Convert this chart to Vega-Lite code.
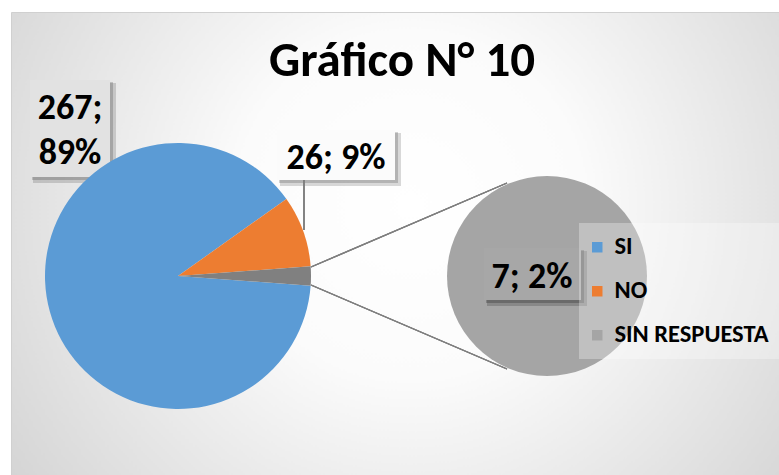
{
  "$schema": "https://vega.github.io/schema/vega-lite/v6.json",
  "width": 768,
  "height": 463,
  "autosize": {"type": "none"},
  "padding": {"left": 11, "top": 12, "right": 0, "bottom": 0},
  "background": "#ffffff",
  "view": {
    "stroke": "#d0d0d0",
    "fill": {"gradient": "radial", "x1": 0.52, "y1": 0.45, "r1": 0, "x2": 0.52, "y2": 0.45, "r2": 0.75,
      "stops": [{"offset": 0, "color": "#ffffff"}, {"offset": 0.3, "color": "#fbfbfb"}, {"offset": 1, "color": "#c9c9c9"}]}
  },
  "title": {
    "text": "Gráfico N° 10",
    "fontSize": 49,
    "font": "Carlito, Liberation Sans Narrow, DejaVu Sans Condensed, Lato",
    "fontWeight": "bold",
    "color": "#000000",
    "anchor": "middle",
    "baseline": "alphabetic",
    "offset": 0,
    "dy": 113,
    "dx": 7
  },
  "data": {"values": [
    {"respuesta": "SI", "n": 267, "pct": "89%"},
    {"respuesta": "NO", "n": 26, "pct": "9%"},
    {"respuesta": "SIN RESPUESTA", "n": 7, "pct": "2%"}
  ]},
  "config": {
    "axis": {"disable": true},
    "font": "Carlito, Liberation Sans Narrow, DejaVu Sans Condensed, Lato",
    "text": {"font": "Carlito, Liberation Sans Narrow, DejaVu Sans Condensed, Lato"}
  },
  "resolve": {"scale": {"theta": "independent"}},
  "layer": [
    {
      "mark": {"type": "rect", "fill": "#000000", "opacity": 0.05},
      "encoding": {
        "x": {"datum": 22, "type": "quantitative", "scale": {"domain": [0, 768], "nice": false, "zero": false}},
        "x2": {"datum": 105},
        "y": {"datum": 71, "type": "quantitative", "scale": {"domain": [463, 0], "nice": false, "zero": false}},
        "y2": {"datum": 171}
      }
    },
    {
      "mark": {"type": "rect", "fill": "#000000", "opacity": 0.06},
      "encoding": {
        "x": {"datum": 21, "type": "quantitative"},
        "x2": {"datum": 102},
        "y": {"datum": 70, "type": "quantitative"},
        "y2": {"datum": 168}
      }
    },
    {
      "mark": {"type": "rect", "fill": "#e2e2e2", "opacity": 1},
      "encoding": {
        "x": {"datum": 19, "type": "quantitative"},
        "x2": {"datum": 99},
        "y": {"datum": 68, "type": "quantitative"},
        "y2": {"datum": 165}
      }
    },
    {
      "mark": {"type": "rect", "fill": "#000000", "opacity": 0.05},
      "encoding": {
        "x": {"datum": 269, "type": "quantitative"},
        "x2": {"datum": 390},
        "y": {"datum": 121, "type": "quantitative"},
        "y2": {"datum": 174}
      }
    },
    {
      "mark": {"type": "rect", "fill": "#000000", "opacity": 0.06},
      "encoding": {
        "x": {"datum": 268, "type": "quantitative"},
        "x2": {"datum": 387},
        "y": {"datum": 120, "type": "quantitative"},
        "y2": {"datum": 171}
      }
    },
    {
      "mark": {"type": "rect", "fill": "#fbfbfb"},
      "encoding": {
        "x": {"datum": 266, "type": "quantitative"},
        "x2": {"datum": 384},
        "y": {"datum": 118, "type": "quantitative"},
        "y2": {"datum": 168}
      }
    },
    {
      "mark": {"type": "arc", "outerRadius": 133},
      "encoding": {
        "x": {"datum": 167, "type": "quantitative"},
        "y": {"datum": 264, "type": "quantitative"},
        "theta": {"field": "n", "type": "quantitative", "scale": {"range": [1.4975, 7.7807]}},
        "order": {"field": "respuesta", "sort": "descending"},
        "color": {
          "condition": {"test": "datum.respuesta == 'SIN RESPUESTA'", "value": "#808080"},
          "field": "respuesta", "type": "nominal",
          "scale": {"domain": ["SI", "NO", "SIN RESPUESTA"], "range": ["#5b9bd5", "#ed7d31", "#a5a5a5"]},
          "legend": {
            "title": null,
            "orient": "none",
            "legendX": 568,
            "legendY": 211,
            "symbolType": "square",
            "symbolSize": 110,
            "symbolStrokeWidth": 0,
            "symbolOpacity": 1,
            "symbolOffset": -6,
            "labelFontSize": 24.5,
            "labelFontWeight": "bold",
            "labelColor": "#000000",
            "labelFont": "Carlito, Liberation Sans Narrow, DejaVu Sans Condensed, Lato",
            "labelLimit": 300,
            "rowPadding": 19,
            "padding": 12,
            "fillColor": "rgba(255,255,255,0.3)",
            "labelOffset": 5
          }
        }
      }
    },
    {
      "transform": [{"filter": "datum.respuesta == 'SIN RESPUESTA'"}],
      "mark": {"type": "arc", "outerRadius": 100, "color": "#a5a5a5"},
      "encoding": {
        "x": {"datum": 536, "type": "quantitative"},
        "y": {"datum": 264, "type": "quantitative"},
        "theta": {"field": "n", "type": "quantitative"}
      }
    },
    {
      "mark": {"type": "rule", "color": "#7f7f7f", "strokeWidth": 1.3},
      "encoding": {
        "x": {"datum": 300, "type": "quantitative"},
        "y": {"datum": 255, "type": "quantitative"},
        "x2": {"datum": 496},
        "y2": {"datum": 171}
      }
    },
    {
      "mark": {"type": "rule", "color": "#7f7f7f", "strokeWidth": 1.3},
      "encoding": {
        "x": {"datum": 300, "type": "quantitative"},
        "y": {"datum": 273, "type": "quantitative"},
        "x2": {"datum": 496},
        "y2": {"datum": 357}
      }
    },
    {
      "mark": {"type": "rule", "color": "#7f7f7f", "strokeWidth": 1.3},
      "encoding": {
        "x": {"datum": 293, "type": "quantitative"},
        "y": {"datum": 168, "type": "quantitative"},
        "y2": {"datum": 218}
      }
    },
    {
      "mark": {"type": "rect", "fill": "#000000", "opacity": 0.06},
      "encoding": {
        "x": {"datum": 476, "type": "quantitative"},
        "x2": {"datum": 576},
        "y": {"datum": 239, "type": "quantitative"},
        "y2": {"datum": 294}
      }
    },
    {
      "mark": {"type": "rect", "fill": "#000000", "opacity": 0.08},
      "encoding": {
        "x": {"datum": 475, "type": "quantitative"},
        "x2": {"datum": 573},
        "y": {"datum": 238, "type": "quantitative"},
        "y2": {"datum": 291}
      }
    },
    {
      "mark": {"type": "rect", "fill": "#a7a7a7"},
      "encoding": {
        "x": {"datum": 473, "type": "quantitative"},
        "x2": {"datum": 570},
        "y": {"datum": 236, "type": "quantitative"},
        "y2": {"datum": 288}
      }
    },
    {
      "transform": [
        {"filter": "datum.respuesta == 'SI'"},
        {"calculate": "[datum.n + ';', datum.pct]", "as": "etiqueta"}
      ],
      "mark": {"type": "text", "fontSize": 36, "fontWeight": "bold", "color": "#000000", "align": "center", "baseline": "middle", "lineHeight": 45},
      "encoding": {
        "x": {"datum": 59, "type": "quantitative"},
        "y": {"datum": 96, "type": "quantitative"},
        "text": {"field": "etiqueta"}
      }
    },
    {
      "transform": [
        {"filter": "datum.respuesta == 'NO'"},
        {"calculate": "datum.n + '; ' + datum.pct", "as": "etiqueta"}
      ],
      "mark": {"type": "text", "fontSize": 36, "fontWeight": "bold", "color": "#000000", "align": "center", "baseline": "middle"},
      "encoding": {
        "x": {"datum": 325, "type": "quantitative"},
        "y": {"datum": 146, "type": "quantitative"},
        "text": {"field": "etiqueta"}
      }
    },
    {
      "transform": [
        {"filter": "datum.respuesta == 'SIN RESPUESTA'"},
        {"calculate": "datum.n + '; ' + datum.pct", "as": "etiqueta"}
      ],
      "mark": {"type": "text", "fontSize": 36, "fontWeight": "bold", "color": "#000000", "align": "center", "baseline": "middle"},
      "encoding": {
        "x": {"datum": 521, "type": "quantitative"},
        "y": {"datum": 265, "type": "quantitative"},
        "text": {"field": "etiqueta"}
      }
    }
  ]
}
